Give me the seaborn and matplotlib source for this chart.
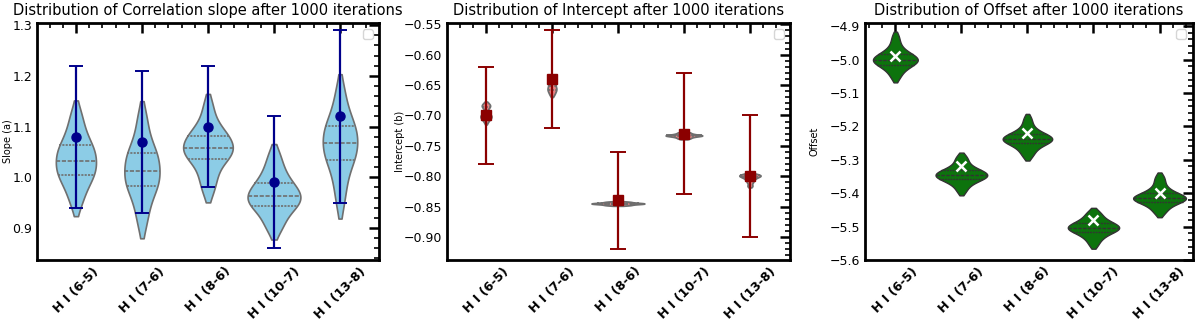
import numpy as np
import pandas as pd
import matplotlib
matplotlib.use("Agg")
import matplotlib.pyplot as plt
import seaborn as sns
from matplotlib.ticker import AutoMinorLocator, MultipleLocator

lines = ["H I (6-5)", "H I (7-6)", "H I (8-6)", "H I (10-7)", "H I (13-8)"]

# best-fit values with lower / upper limits
slope_best = [1.08, 1.07, 1.10, 0.99, 1.12]
slope_low = [0.94, 0.93, 0.98, 0.86, 0.95]
slope_high = [1.22, 1.21, 1.22, 1.12, 1.29]

intercept_best = [-0.70, -0.64, -0.84, -0.73, -0.80]
intercept_low = [-0.78, -0.72, -0.92, -0.83, -0.90]
intercept_high = [-0.62, -0.56, -0.76, -0.63, -0.70]

offset_best = [-4.99, -5.32, -5.22, -5.48, -5.40]

# representative iteration values
slope_samples = [
    [0.945, 0.965, 0.98, 0.99, 1.002, 1.006, 1.012, 1.018, 1.026, 1.033, 1.04, 1.047, 1.053, 1.059, 1.067,
     1.078, 1.092, 1.108, 1.13],
    [0.905, 0.93, 0.95, 0.963, 0.979, 0.985, 0.99, 0.996, 1.004, 1.013, 1.022, 1.03, 1.038, 1.043, 1.051,
     1.062, 1.078, 1.1, 1.125],
    [0.97, 0.99, 1.005, 1.018, 1.033, 1.039, 1.043, 1.048, 1.052, 1.057, 1.063, 1.068, 1.074, 1.079, 1.085,
     1.092, 1.103, 1.12, 1.145],
    [0.895, 0.91, 0.922, 0.932, 0.942, 0.946, 0.95, 0.954, 0.959, 0.964, 0.969, 0.974, 0.979, 0.985, 0.993,
     1.002, 1.014, 1.028, 1.048],
    [0.945, 0.975, 0.995, 1.012, 1.031, 1.037, 1.043, 1.05, 1.059, 1.068, 1.076, 1.083, 1.09, 1.097, 1.105,
     1.116, 1.13, 1.15, 1.177],
]
intercept_samples = [
    [-0.711, -0.706, -0.704, -0.702, -0.701, -0.699, -0.696, -0.687, -0.685, -0.683, -0.681],
    [-0.666, -0.661, -0.658, -0.655, -0.652, -0.647, -0.644, -0.641, -0.638],
    [-0.848, -0.847, -0.846, -0.8455, -0.845, -0.8445, -0.844, -0.843, -0.842],
    [-0.738, -0.736, -0.7345, -0.7335, -0.733, -0.7325, -0.7315, -0.730, -0.728],
    [-0.816, -0.81, -0.806, -0.803, -0.801, -0.7995, -0.7985, -0.798, -0.797],
]
offset_samples = [
    [-5.055, -5.04, -5.03, -5.022, -5.017, -5.013, -5.009, -5.006, -5.003, -5.0, -4.997, -4.994, -4.99,
     -4.986, -4.982, -4.975, -4.965, -4.95, -4.93],
    [-5.395, -5.38, -5.371, -5.364, -5.359, -5.356, -5.353, -5.35, -5.348, -5.345, -5.342, -5.339, -5.336,
     -5.333, -5.329, -5.323, -5.314, -5.302, -5.29],
    [-5.29, -5.277, -5.267, -5.259, -5.253, -5.249, -5.246, -5.243, -5.24, -5.238, -5.235, -5.232, -5.229,
     -5.226, -5.222, -5.216, -5.207, -5.193, -5.175],
    [-5.555, -5.54, -5.531, -5.524, -5.518, -5.514, -5.511, -5.508, -5.506, -5.503, -5.5, -5.497, -5.494,
     -5.491, -5.487, -5.481, -5.474, -5.465, -5.455],
    [-5.46, -5.448, -5.439, -5.432, -5.427, -5.423, -5.42, -5.418, -5.416, -5.415, -5.412, -5.409, -5.406,
     -5.402, -5.397, -5.39, -5.38, -5.365, -5.35],
]


def long_df(samples):
    rows = []
    for name, vals in zip(lines, samples):
        for v in vals:
            rows.append((name, v))
    return pd.DataFrame(rows, columns=["line", "value"])


def style_axis(ax, ylabel, label_x, major, minor):
    for s in ax.spines.values():
        s.set_linewidth(2)
        s.set_color("black")
    ax.yaxis.set_major_locator(MultipleLocator(major))
    ax.yaxis.set_minor_locator(MultipleLocator(minor))
    ax.xaxis.set_minor_locator(AutoMinorLocator(5))
    ax.tick_params(which="both", direction="in", top=True, right=True, color="black", labelcolor="black")
    ax.tick_params(which="major", length=7, width=1.8, labelsize=9)
    ax.tick_params(which="minor", length=3.5, width=1.2)
    ax.set_xlabel("")
    ax.set_ylabel(ylabel, fontsize=7, color="black")
    ax.yaxis.set_label_coords(label_x, 0.5)
    for lab in ax.get_xticklabels():
        lab.set_rotation(45)
        lab.set_ha("center")
        lab.set_fontweight("bold")
        lab.set_fontsize(9)
    # empty legend box, as in the original
    ax.legend(loc="upper right", fontsize=9)


sns.set_style("white")
plt.rcParams["font.family"] = ["DejaVu Sans"]
plt.rcParams["text.color"] = "black"

fig = plt.figure(figsize=(12, 3.21), dpi=100)
ax1 = fig.add_axes([0.0308, 0.19, 0.285, 0.738])
ax2 = fig.add_axes([0.3725, 0.19, 0.286, 0.738])
ax3 = fig.add_axes([0.7208, 0.19, 0.273, 0.738])
x = np.arange(len(lines))

# slope
sns.violinplot(data=long_df(slope_samples), x="line", y="value", ax=ax1, color="skyblue",
               inner="quart", linecolor="gray", linewidth=1.2, cut=1, bw_adjust=0.8, saturation=0.9)
ax1.errorbar(x, slope_best,
             yerr=[np.subtract(slope_best, slope_low), np.subtract(slope_high, slope_best)],
             fmt="o", color="darkblue", ms=6.5, elinewidth=1.6, capsize=5, capthick=1.4)
ax1.set_xlim(-0.59, 4.59)
ax1.set_ylim(0.837, 1.304)
ax1.set_title("Distribution of Correlation slope after 1000 iterations", fontsize=10.5, color="black")
style_axis(ax1, "Slope (a)", -0.070, 0.1, 0.02)

# intercept
sns.violinplot(data=long_df(intercept_samples), x="line", y="value", ax=ax2, color="lightcoral",
               inner="quart", linecolor="gray", linewidth=1.3, cut=1, bw_adjust=0.6, saturation=0.9)
ax2.errorbar(x, intercept_best,
             yerr=[np.subtract(intercept_best, intercept_low), np.subtract(intercept_high, intercept_best)],
             fmt="s", color="darkred", ms=6.5, elinewidth=1.6, capsize=6, capthick=1.4)
ax2.set_xlim(-0.59, 4.61)
ax2.set_ylim(-0.938, -0.548)
ax2.set_title("Distribution of Intercept after 1000 iterations", fontsize=10.5, color="black")
style_axis(ax2, "Intercept (b)", -0.122, 0.05, 0.01)

# offset
sns.violinplot(data=long_df(offset_samples), x="line", y="value", ax=ax3, color="green",
               inner="quart", linecolor="#333333", linewidth=1.0, cut=1, bw_adjust=0.8, saturation=0.8)
ax3.plot(x, offset_best, "x", color="white", ms=7, mew=1.8)
ax3.set_xlim(-0.46, 4.5)
ax3.set_ylim(-5.60, -4.891)
ax3.set_title("Distribution of Offset after 1000 iterations", fontsize=10.5, color="black")
style_axis(ax3, "Offset", -0.140, 0.1, 0.02)

fig.savefig("out.png", dpi=100)
